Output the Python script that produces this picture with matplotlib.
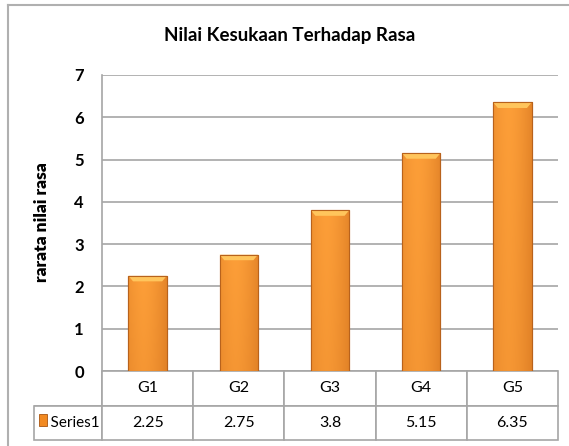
import numpy as np
import matplotlib.pyplot as plt
from matplotlib.patches import Rectangle, Polygon
from matplotlib.lines import Line2D

# data
groups = ['G1', 'G2', 'G3', 'G4', 'G5']
nilai = [2.25, 2.75, 3.8, 5.15, 6.35]
series_name = 'Series1'

plt.rcParams['font.family'] = ['Lato', 'DejaVu Sans']

W, H = 569, 446
fig = plt.figure(figsize=(W/100, H/100), dpi=100)
# plot area in pixels: left 102, right 558, top 75, bottom 371
ax = fig.add_axes([102/W, (H-371)/H, 456/W, 296/H])

# outer chart border (only left and top show)
fig.add_artist(Line2D([8/W, 8/W], [0, 1 - 5/H], color='#b0b0b0', linewidth=1.5))
fig.add_artist(Line2D([8/W, 1], [1 - 5/H, 1 - 5/H], color='#b0b0b0', linewidth=1.5))

x = np.arange(len(groups))
bars = ax.bar(x, nilai, width=0.42, color='#f7962f', edgecolor='#b8621c', linewidth=0.8, zorder=3)

# shading on each bar for the bevel look
n = 64
gx = np.linspace(0, 1, n)
gy = np.linspace(0, 1, n)
hx = 1 - 1.1 * np.abs(gx - 0.4) ** 1.6
light = np.array([0.99, 0.62, 0.22])
dark = np.array([0.80, 0.42, 0.10])
img = np.zeros((n, n, 3))
for i in range(n):
    f = np.clip(hx * (0.85 + 0.15 * gy[i]), 0, 1)
    img[i] = light[None, :] * f[:, None] + dark[None, :] * (1 - f[:, None])
for b in bars:
    x0, y0 = b.get_x(), b.get_y()
    w, h = b.get_width(), b.get_height()
    im = ax.imshow(img, extent=[x0, x0 + w, y0, y0 + h], origin='lower', aspect='auto', zorder=3.5)
    im.set_clip_path(b)
    # light bevel at the top
    t = 0.13
    ax.add_patch(Polygon([[x0, h], [x0 + w, h], [x0 + w*0.88, h - t], [x0 + w*0.12, h - t]],
                         closed=True, facecolor='#ffc55c', edgecolor='none', zorder=4))
    ax.add_patch(Rectangle((x0, y0), w, h, fill=False, edgecolor='#b8621c', linewidth=0.8, zorder=4.5))

ax.set_xlim(-0.5, len(groups) - 0.5)
ax.set_ylim(0, 7)
ax.set_yticks(range(0, 8))
ax.tick_params(axis='y', length=0, pad=13, labelsize=12)
ax.tick_params(axis='x', length=0, labelbottom=False)
for lbl in ax.get_yticklabels():
    lbl.set_fontweight('bold')
ax.grid(axis='y', color='#a6a6a6', linewidth=1.2, zorder=0)
for s in ['top', 'right', 'bottom']:
    ax.spines[s].set_visible(False)
ax.spines['left'].set_color('#a6a6a6')
ax.spines['left'].set_linewidth(1.2)

fig.text(290/W, 1 - 36/H, 'Nilai Kesukaan Terhadap Rasa', fontsize=13.5, fontweight='bold',
         ha='center', va='center')
fig.text(42/W, 1 - 222/H, 'rarata nilai rasa', fontsize=12.5, fontweight='heavy',
         rotation=90, ha='center', va='center')

# data table under the chart
lab_w = 68 / 456
tab_h = 69 / 296
cells = [[''] + groups, ['    ' + series_name] + [str(v) for v in nilai]]
tab = ax.table(cellText=cells, colWidths=[lab_w] + [1/len(groups)]*len(groups),
               cellLoc='center', bbox=[-lab_w, -tab_h, 1 + lab_w, tab_h])
tab.auto_set_font_size(False)
for (r, c), cell in tab.get_celld().items():
    cell.set_edgecolor('#a6a6a6')
    cell.set_linewidth(1.2)
    cell.get_text().set_fontsize(11.5)
    if r == 0 and c == 0:
        cell.visible_edges = 'BR'
    if c == 0 and r == 1:
        cell.get_text().set_ha('left')
        cell.get_text().set_fontsize(11)
        cell.PAD = 0.01

# legend key next to Series1
ax.add_patch(Rectangle((-lab_w + 0.01, -55/296), 0.018, 12/296, transform=ax.transAxes,
                       facecolor='#f28a22', edgecolor='#a85410', linewidth=0.6, clip_on=False, zorder=5))

fig.savefig('out.png', dpi=100)
